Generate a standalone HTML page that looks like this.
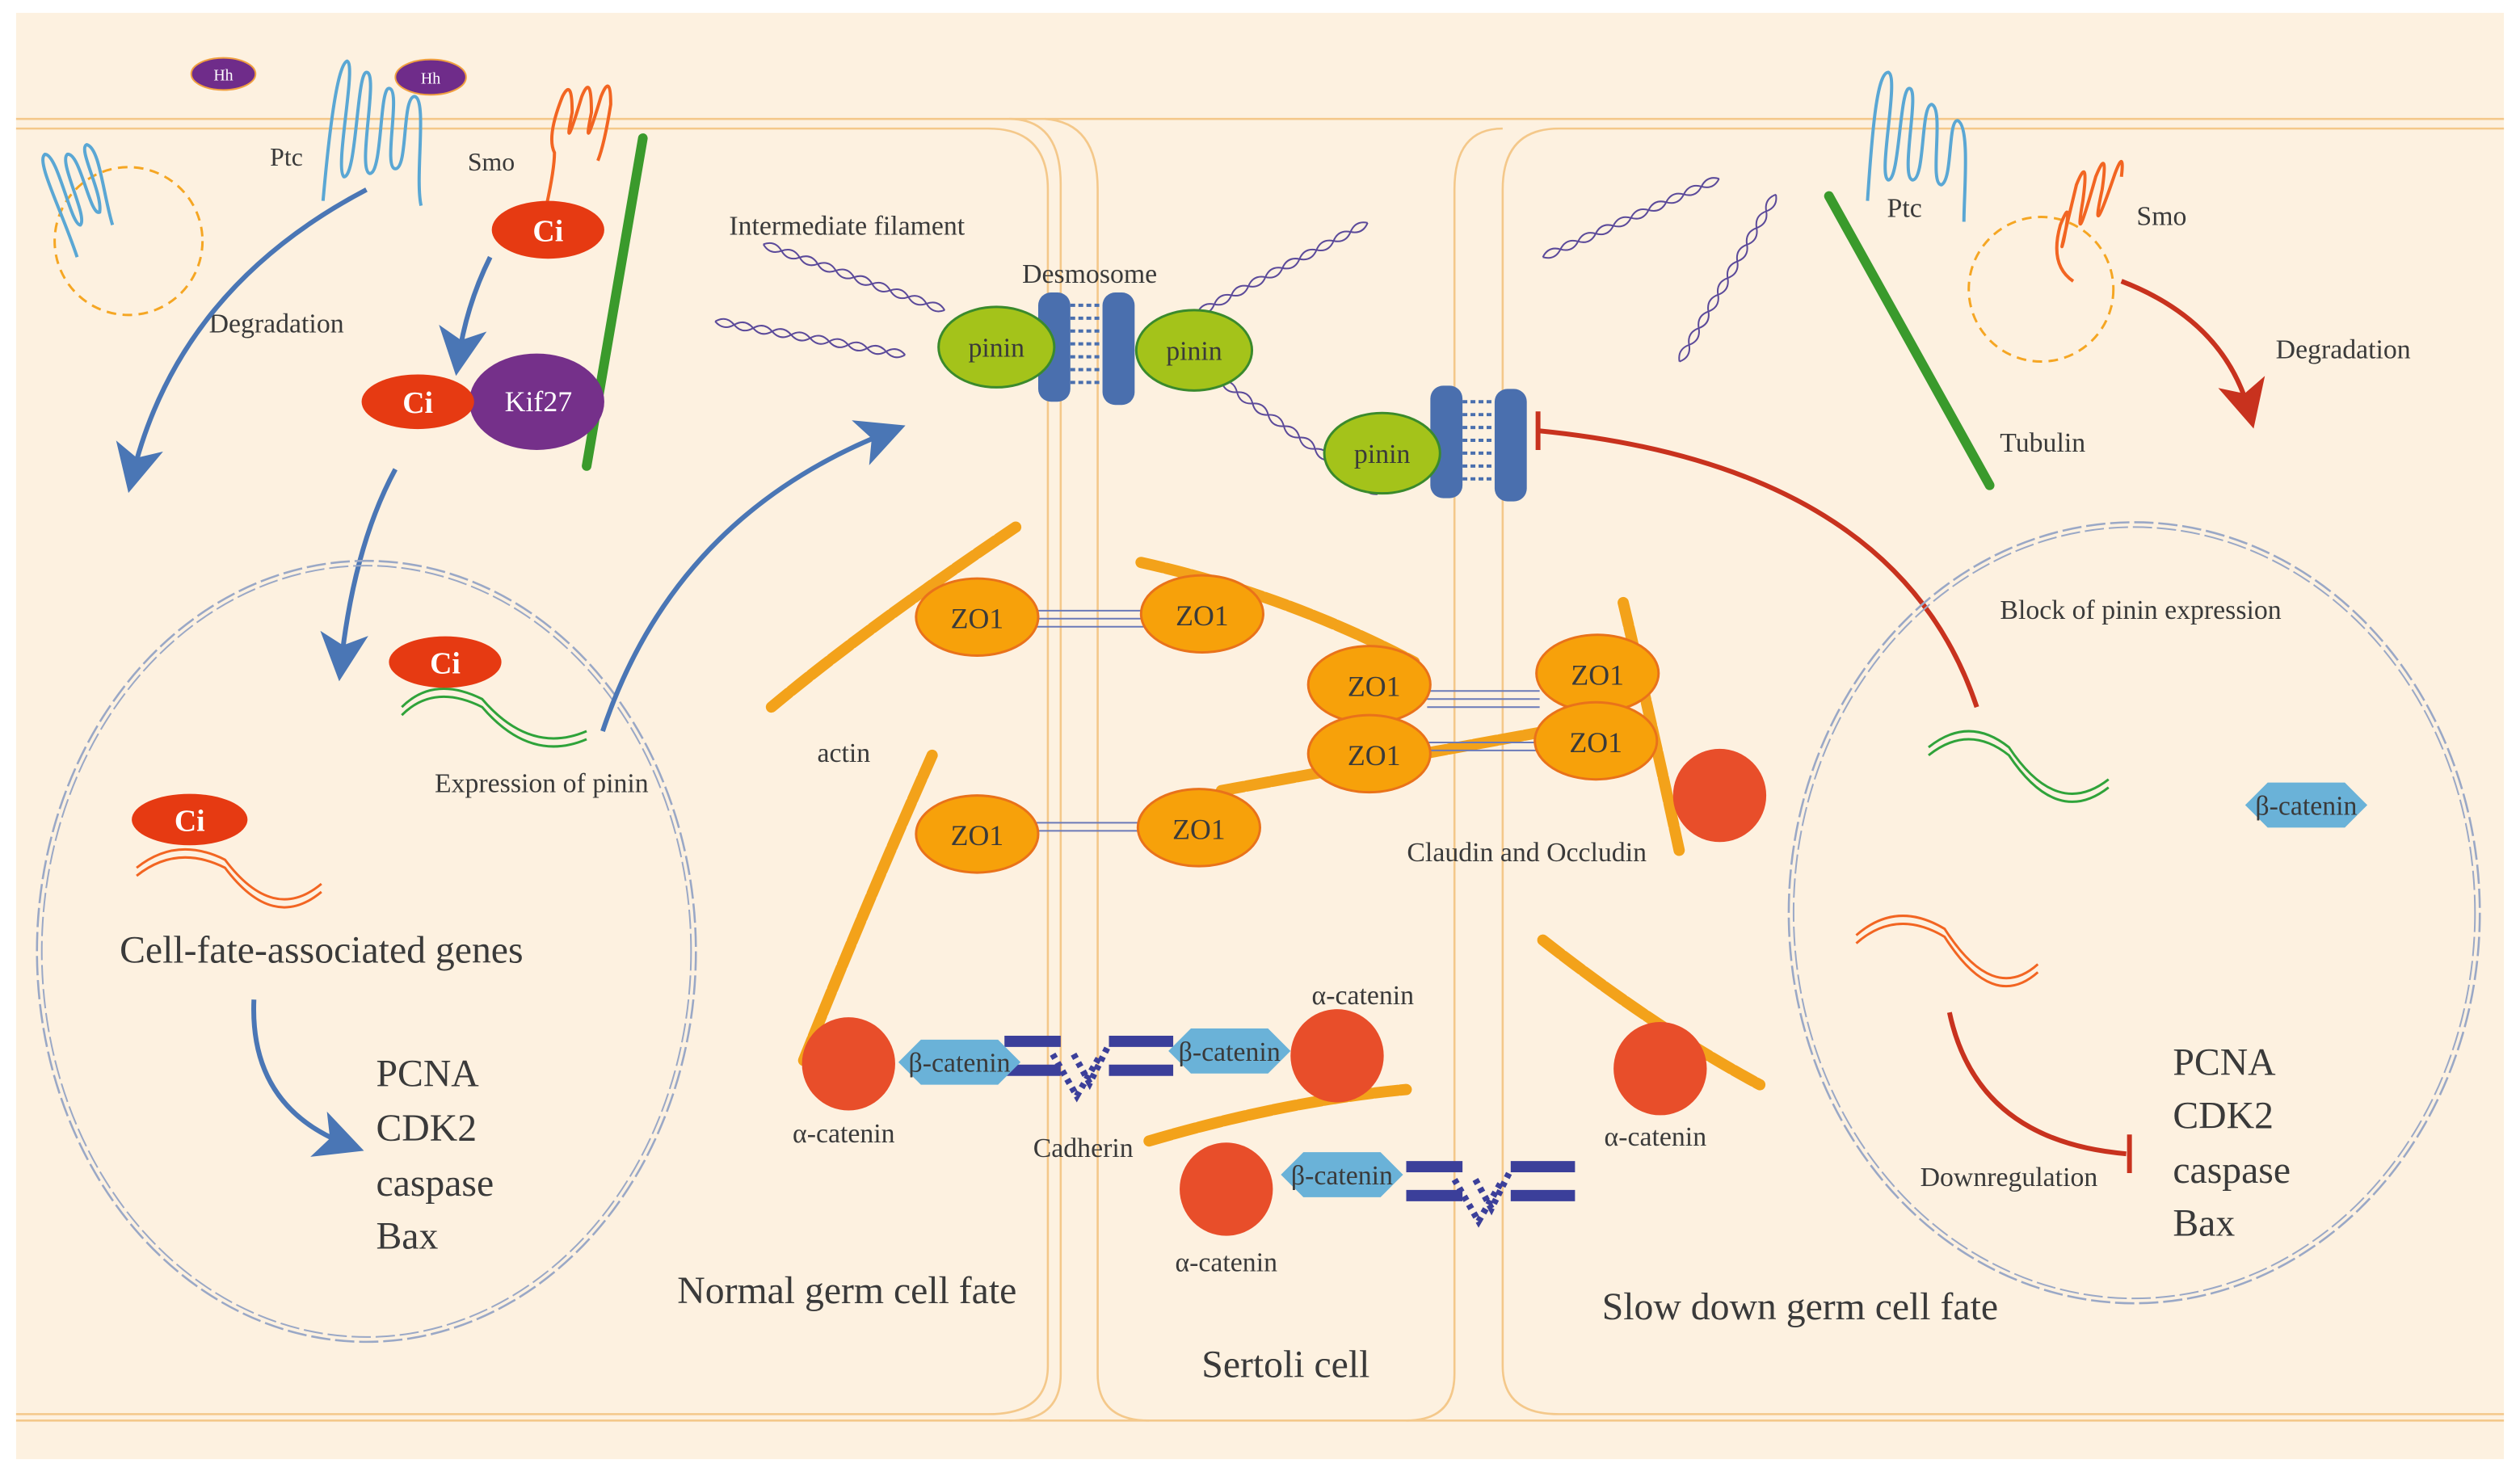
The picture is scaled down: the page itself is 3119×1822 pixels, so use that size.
<!DOCTYPE html>
<html><head><meta charset="utf-8"><style>
html,body{margin:0;padding:0;background:#fff;}
svg{display:block;}
text{font-family:"Liberation Serif",serif;fill:#3a3a3a;}
</style></head><body>
<svg width="3119" height="1822" viewBox="0 0 1568 916" preserveAspectRatio="none" xmlns="http://www.w3.org/2000/svg">
<defs>
<marker id="ab" viewBox="0 0 20 20" refX="14" refY="10" markerWidth="10" markerHeight="10" orient="auto"><path d="M0,0 L20,10 L0,20 L5,10Z" fill="#4a76b5"/></marker>
<marker id="ar" viewBox="0 0 20 20" refX="14" refY="10" markerWidth="10" markerHeight="10" orient="auto"><path d="M0,0 L20,10 L0,20 L5,10Z" fill="#c8321e"/></marker>
<g id="wave"><path d="M0,0 q6,-5 12,0 t12,0 t12,0 t12,0 t12,0 t12,0 t12,0 t12,0 t12,0 t12,0" fill="none" stroke="#5b4a9a" stroke-width="1"/><path d="M0,0 q6,5 12,0 t12,0 t12,0 t12,0 t12,0 t12,0 t12,0 t12,0 t12,0 t12,0" fill="none" stroke="#5b4a9a" stroke-width="1"/></g>
<g id="hex"><polygon points="-38,0 -24,-14 24,-14 38,0 24,14 -24,14" fill="#6ab2d8"/></g>
<g id="cad" fill="none" stroke="#3b3f9a" stroke-width="7"><path d="M-25,-12 H10 M-25,6 H10 M40,-12 H80 M40,6 H80"/><path d="M5,-4 L20,22 L35,-4 M18,-4 L28,14 L40,-10" stroke-width="4" stroke-dasharray="3,3"/></g>
</defs>
<rect width="1568" height="916" fill="#fff"/>
<rect x="10" y="8" width="1548" height="900" fill="#fdf1e0"/>
<g fill="none" stroke="#f4c88a" stroke-width="1.3">
<path d="M10,74 H1558 M10,80 H615 Q652,80 652,118 V850 Q652,880 615,880 H10"/>
<path d="M10,884 H1558"/>
<path d="M628,74 Q660,74 660,115 V855 Q660,884 628,884"/>
<path d="M650,74 Q683,76 683,118 V855 Q683,884 715,884"/>
<path d="M935,80 Q905,80 905,118 V855 Q905,884 875,884"/>
<path d="M1558,80 H970 Q935,80 935,118 V850 Q935,880 970,880 H1558"/>
</g>
<ellipse cx="139" cy="46" rx="20" ry="10" fill="#6f2c8a" stroke="#f0a040"/>
<text x="139" y="50" font-size="10" text-anchor="middle" style="fill:#fff">Hh</text>
<path d="M201,125 C205,80 210,40 216,38 C222,40 208,105 214,110 C222,110 222,45 228,45 C236,45 222,105 230,108 C238,108 236,55 242,55 C250,55 238,105 246,105 C254,105 250,60 258,60 C266,62 258,110 262,128" fill="none" stroke="#5aa7d4" stroke-width="2"/>
<ellipse cx="268" cy="48" rx="22" ry="11" fill="#6f2c8a" stroke="#f0a040"/>
<text x="268" y="52" font-size="10" text-anchor="middle" style="fill:#fff">Hh</text>
<text x="168" y="103" font-size="16">Ptc</text>
<circle cx="80" cy="150" r="46" fill="none" stroke="#f5a623" stroke-width="1.5" stroke-dasharray="6,4"/>
<path d="M48,160 C38,130 22,100 28,96 C36,96 44,140 50,140 C55,135 36,100 42,96 C50,95 56,135 62,132 C64,120 48,92 54,90 C62,92 64,120 70,140" fill="none" stroke="#5aa7d4" stroke-width="2"/>
<path d="M340,128 Q345,105 345,95 Q340,85 350,60 Q356,48 356,70 Q350,100 362,60 Q368,45 368,70 Q362,100 374,60 Q380,45 380,65 Q376,90 372,100" fill="none" stroke="#f26522" stroke-width="2"/>
<text x="291" y="106" font-size="16">Smo</text>
<path d="M400,86 L365,290" stroke="#3a9a2c" stroke-width="6" stroke-linecap="round"/>
<ellipse cx="341" cy="143" rx="35" ry="18" fill="#e63a12"/>
<text x="341" y="150" font-size="19" font-weight="bold" text-anchor="middle" style="fill:#fff">Ci</text>
<path d="M305,160 Q290,190 285,225" fill="none" stroke="#4a76b5" stroke-width="3" marker-end="url(#ab)"/>
<ellipse cx="334" cy="250" rx="42" ry="30" fill="#75308a"/>
<text x="335" y="256" font-size="18" text-anchor="middle" style="fill:#fff">Kif27</text>
<ellipse cx="260" cy="250" rx="35" ry="17" fill="#e63a12"/>
<text x="260" y="257" font-size="19" font-weight="bold" text-anchor="middle" style="fill:#fff">Ci</text>
<text x="130" y="207" font-size="17">Degradation</text>
<path d="M228,118 Q110,180 82,298" fill="none" stroke="#4a76b5" stroke-width="3" marker-end="url(#ab)"/>
<path d="M246,292 Q220,340 212,415" fill="none" stroke="#4a76b5" stroke-width="3" marker-end="url(#ab)"/>
<ellipse cx="228" cy="592" rx="205" ry="243" fill="none" stroke="#9aa8c6" stroke-width="1.3" stroke-dasharray="12,3"/>
<ellipse cx="228" cy="592" rx="202" ry="240" fill="none" stroke="#9aa8c6" stroke-width="1" stroke-dasharray="12,3"/>
<path d="M250,440 Q270,420 300,435 Q330,470 365,455 M250,445 Q270,425 300,440 Q330,475 365,460" fill="none" stroke="#2fa33a" stroke-width="1.5"/>
<ellipse cx="277" cy="412" rx="35" ry="16" fill="#e63a12"/>
<text x="277" y="419" font-size="19" font-weight="bold" text-anchor="middle" style="fill:#fff">Ci</text>
<text x="337" y="493" font-size="17" text-anchor="middle">Expression of pinin</text>
<path d="M375,455 Q420,320 555,268" fill="none" stroke="#4a76b5" stroke-width="3" marker-end="url(#ab)"/>
<path d="M85,540 Q110,520 140,535 Q170,575 200,550 M85,545 Q110,525 140,540 Q170,580 200,555" fill="none" stroke="#f26522" stroke-width="1.5"/>
<ellipse cx="118" cy="510" rx="36" ry="16" fill="#e63a12"/>
<text x="118" y="517" font-size="19" font-weight="bold" text-anchor="middle" style="fill:#fff">Ci</text>
<text x="200" y="599" font-size="24" text-anchor="middle">Cell-fate-associated genes</text>
<path d="M158,622 Q155,690 218,713" fill="none" stroke="#4a76b5" stroke-width="3" marker-end="url(#ab)"/>
<g font-size="24"><text x="234" y="676">PCNA</text><text x="234" y="710">CDK2</text><text x="234" y="744">caspase</text><text x="234" y="777">Bax</text></g>
<text x="527" y="811" font-size="24" text-anchor="middle">Normal germ cell fate</text>
<text x="800" y="857" font-size="24" text-anchor="middle">Sertoli cell</text>
<text x="1120" y="821" font-size="24" text-anchor="middle">Slow down germ cell fate</text>
<text x="527" y="146" font-size="17" text-anchor="middle">Intermediate filament</text>
<text x="678" y="176" font-size="17" text-anchor="middle">Desmosome</text>
<use href="#wave" transform="translate(475,152) rotate(20)"/>
<use href="#wave" transform="translate(445,200) rotate(10)"/>
<use href="#wave" transform="translate(745,195) rotate(-28)"/>
<use href="#wave" transform="translate(760,237) rotate(36)"/>
<rect x="646" y="182" width="20" height="68" rx="8" fill="#4a6fae"/>
<rect x="686" y="182" width="20" height="70" rx="8" fill="#4a6fae"/>
<path d="M666,190 H686 M666,198 H686 M666,206 H686 M666,214 H686 M666,222 H686 M666,230 H686 M666,238 H686" stroke="#4a6fae" stroke-width="2" stroke-dasharray="3,2"/>
<ellipse cx="620" cy="216" rx="36" ry="25" fill="#a4c31a" stroke="#3a8a2c" stroke-width="1.5"/>
<text x="620" y="222" font-size="17" text-anchor="middle">pinin</text>
<ellipse cx="743" cy="218" rx="36" ry="25" fill="#a4c31a" stroke="#3a8a2c" stroke-width="1.5"/>
<text x="743" y="224" font-size="17" text-anchor="middle">pinin</text>
<rect x="890" y="240" width="20" height="70" rx="8" fill="#4a6fae"/>
<rect x="930" y="242" width="20" height="70" rx="8" fill="#4a6fae"/>
<path d="M910,250 H930 M910,258 H930 M910,266 H930 M910,274 H930 M910,282 H930 M910,290 H930 M910,298 H930" stroke="#4a6fae" stroke-width="2" stroke-dasharray="3,2"/>
<ellipse cx="860" cy="282" rx="36" ry="25" fill="#a4c31a" stroke="#3a8a2c" stroke-width="1.5"/>
<text x="860" y="288" font-size="17" text-anchor="middle">pinin</text>
<path d="M1230,440 Q1180,290 957,268" fill="none" stroke="#c8321e" stroke-width="3"/>
<path d="M957,256 V280" stroke="#c8321e" stroke-width="3"/>
<g stroke="#f3a21a" stroke-width="7" stroke-linecap="round" fill="none" stroke-dasharray="14,2">
<path d="M480,440 Q540,390 632,328"/>
<path d="M710,350 Q800,370 880,412"/>
<path d="M760,492 Q880,470 990,450"/>
<path d="M1010,375 Q1030,460 1045,530"/>
<path d="M580,470 Q540,560 500,660"/>
<path d="M715,710 Q800,685 875,678"/>
<path d="M960,585 Q1030,640 1095,675"/>
</g>
<text x="525" y="474" font-size="17" text-anchor="middle">actin</text>
<g stroke="#6b7ab8" stroke-width="1" fill="none">
<path d="M645,380 H712 M645,385 H712 M645,390 H712"/>
<path d="M888,430 H958 M888,435 H958 M888,440 H958"/>
<path d="M888,462 H958 M888,467 H958"/>
<path d="M645,512 H710 M645,517 H710"/>
</g>
<g fill="#f7a10a" stroke="#e9721a" stroke-width="1.5">
<ellipse cx="608" cy="384" rx="38" ry="24"/><ellipse cx="748" cy="382" rx="38" ry="24"/>
<ellipse cx="852" cy="426" rx="38" ry="24"/><ellipse cx="994" cy="419" rx="38" ry="24"/>
<ellipse cx="852" cy="469" rx="38" ry="24"/><ellipse cx="993" cy="461" rx="38" ry="24"/>
<ellipse cx="608" cy="519" rx="38" ry="24"/><ellipse cx="746" cy="515" rx="38" ry="24"/>
</g>
<g font-size="18" text-anchor="middle">
<text x="608" y="391">ZO1</text><text x="748" y="389">ZO1</text><text x="855" y="433">ZO1</text><text x="994" y="426">ZO1</text>
<text x="855" y="476">ZO1</text><text x="993" y="468">ZO1</text><text x="608" y="526">ZO1</text><text x="746" y="522">ZO1</text>
</g>
<text x="950" y="536" font-size="17" text-anchor="middle">Claudin and Occludin</text>
<g fill="#e84e2a"><circle cx="1070" cy="495" r="29"/><circle cx="528" cy="662" r="29"/><circle cx="832" cy="657" r="29"/><circle cx="763" cy="740" r="29"/><circle cx="1033" cy="665" r="29"/></g>
<use href="#cad" transform="translate(650,660)"/>
<use href="#cad" transform="translate(900,738)"/>
<use href="#hex" transform="translate(597,661)"/><use href="#hex" transform="translate(765,654)"/><use href="#hex" transform="translate(835,731)"/><use href="#hex" transform="translate(1435,501)"/>
<g font-size="17" text-anchor="middle">
<text x="597" y="667">β-catenin</text><text x="765" y="660">β-catenin</text><text x="835" y="737">β-catenin</text><text x="1435" y="507">β-catenin</text>
<text x="525" y="711">α-catenin</text><text x="848" y="625">α-catenin</text><text x="763" y="791">α-catenin</text><text x="1030" y="713">α-catenin</text>
<text x="674" y="720">Cadherin</text>
</g>
<use href="#wave" transform="translate(960,160) rotate(-24)"/>
<use href="#wave" transform="translate(1045,225) rotate(-60)"/>
<path d="M1138,122 L1238,302" stroke="#3a9a2c" stroke-width="6" stroke-linecap="round"/>
<text x="1271" y="281" font-size="17" text-anchor="middle">Tubulin</text>
<path d="M1162,125 C1165,80 1168,45 1175,45 C1182,48 1168,110 1175,112 C1182,112 1182,55 1188,55 C1195,55 1182,110 1190,112 C1198,112 1195,65 1202,65 C1210,68 1200,115 1208,115 C1215,112 1212,75 1218,75 C1226,78 1222,120 1222,138" fill="none" stroke="#5aa7d4" stroke-width="2"/>
<text x="1185" y="135" font-size="17" text-anchor="middle">Ptc</text>
<circle cx="1270" cy="180" r="45" fill="none" stroke="#f5a623" stroke-width="1.5" stroke-dasharray="6,4"/>
<path d="M1290,175 Q1275,165 1282,140 Q1290,120 1284,150 Q1280,165 1292,115 Q1300,95 1296,125 Q1290,160 1304,110 Q1312,90 1308,118 Q1300,155 1316,108 Q1322,92 1320,110" fill="none" stroke="#f26522" stroke-width="2"/>
<text x="1345" y="140" font-size="17" text-anchor="middle">Smo</text>
<path d="M1320,175 Q1385,200 1400,258" fill="none" stroke="#c8321e" stroke-width="3" marker-end="url(#ar)"/>
<text x="1458" y="223" font-size="17" text-anchor="middle">Degradation</text>
<ellipse cx="1328" cy="568" rx="215" ry="243" fill="none" stroke="#9aa8c6" stroke-width="1.3" stroke-dasharray="12,3"/>
<ellipse cx="1328" cy="568" rx="212" ry="240" fill="none" stroke="#9aa8c6" stroke-width="1" stroke-dasharray="12,3"/>
<text x="1332" y="385" font-size="17" text-anchor="middle">Block of pinin expression</text>
<path d="M1200,465 Q1225,445 1250,465 Q1280,510 1312,485 M1200,470 Q1225,450 1250,470 Q1280,515 1312,490" fill="none" stroke="#2fa33a" stroke-width="1.5"/>
<path d="M1155,582 Q1180,560 1210,578 Q1240,625 1268,600 M1155,587 Q1180,565 1210,583 Q1240,630 1268,605" fill="none" stroke="#f26522" stroke-width="1.5"/>
<path d="M1213,630 Q1230,710 1323,718" fill="none" stroke="#c8321e" stroke-width="3"/>
<path d="M1325,706 V730" stroke="#c8321e" stroke-width="3"/>
<text x="1250" y="738" font-size="17" text-anchor="middle">Downregulation</text>
<g font-size="24"><text x="1352" y="669">PCNA</text><text x="1352" y="702">CDK2</text><text x="1352" y="736">caspase</text><text x="1352" y="769">Bax</text></g>
</svg>
</body></html>
